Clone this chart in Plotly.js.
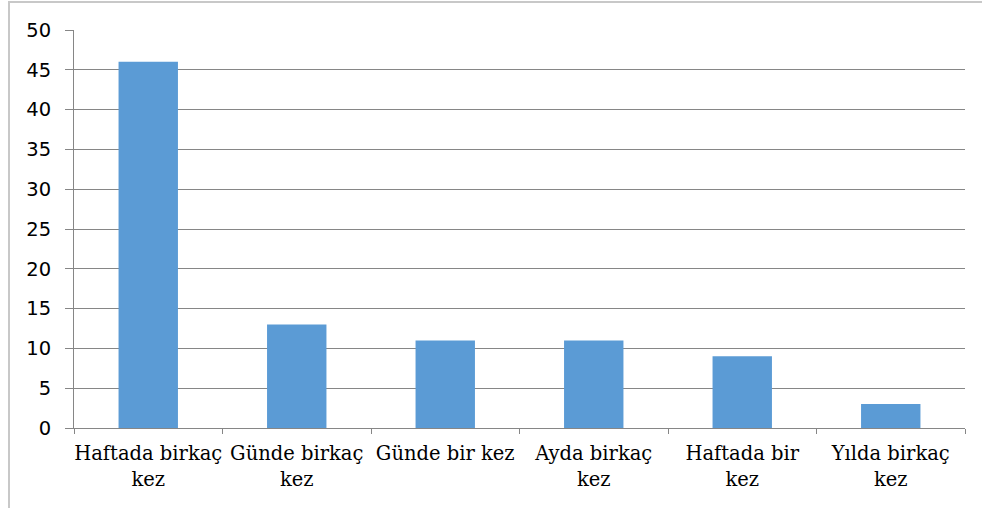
<!DOCTYPE html>
<html>
<head>
<meta charset="utf-8">
<script src="https://cdn.plot.ly/plotly-3.0.1.min.js"></script>
<style>
html,body{margin:0;padding:0;background:#fff;overflow:hidden;}
#frame{position:absolute;left:8px;top:1px;width:1100px;height:700px;border-left:2px solid #c8c8c8;border-top:2px solid #c8c8c8;}
#chart{position:absolute;left:0;top:0;width:982px;height:508px;}
</style>
</head>
<body>
<div id="frame"></div>
<div id="chart"></div>
<script>
const categories = ["Haftada birkaç<br>kez", "Günde birkaç<br>kez", "Günde bir kez", "Ayda birkaç<br>kez", "Haftada bir<br>kez", "Yılda birkaç<br>kez"];
const values = [46, 13, 11, 11, 9, 3];
const yTicks = [0, 5, 10, 15, 20, 25, 30, 35, 40, 45, 50];

const trace = {
  type: 'bar',
  x: categories,
  y: values,
  marker: {color: '#5B9BD5'},
  width: 0.4,
  hoverinfo: 'none'
};

const layout = {
  width: 982,
  height: 508,
  margin: {l: 74, r: 17, t: 29.5, b: 79.5, pad: 0},
  paper_bgcolor: 'rgba(0,0,0,0)',
  plot_bgcolor: 'rgba(0,0,0,0)',
  showlegend: false,
  bargap: 0.6,
  xaxis: {
    type: 'category',
    showline: true,
    linecolor: '#868686',
    linewidth: 1,
    ticks: 'outside',
    tickson: 'boundaries',
    ticklen: 5,
    tickcolor: '#868686',
    showgrid: false,
    tickangle: 0,
    ticklabelstandoff: 8,
    tickfont: {family: 'DejaVu Serif, Liberation Serif, serif', size: 19.5, color: '#000'},
    fixedrange: true
  },
  yaxis: {
    range: [0, 50],
    tickvals: yTicks,
    ticktext: yTicks.map(String),
    showline: true,
    linecolor: '#868686',
    linewidth: 1,
    ticks: 'outside',
    ticklen: 8,
    tickcolor: '#868686',
    showgrid: true,
    gridcolor: '#868686',
    gridwidth: 1,
    zeroline: false,
    ticklabelstandoff: 10,
    tickfont: {family: 'DejaVu Sans, sans-serif', size: 19.5, color: '#000'},
    fixedrange: true
  }
};

Plotly.newPlot('chart', [trace], layout, {staticPlot: true, displayModeBar: false});
</script>
</body>
</html>
